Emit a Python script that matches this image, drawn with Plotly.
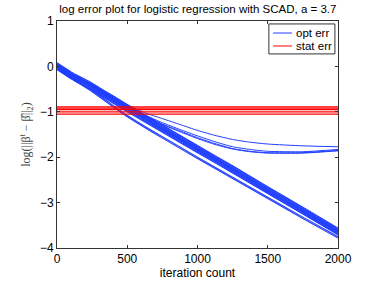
import plotly.graph_objects as go

iters = [0, 100, 250, 500, 750, 1000, 1250, 1500, 1750, 2000]

# optimization error curves: the main dense bundle
opt_bundle = [
    [0.08, -0.12, -0.37, -0.84, -1.29, -1.74, -2.19, -2.65, -3.10, -3.56],
    [0.06, -0.14, -0.39, -0.86, -1.31, -1.76, -2.21, -2.67, -3.12, -3.58],
    [0.04, -0.16, -0.41, -0.88, -1.33, -1.78, -2.23, -2.69, -3.14, -3.60],
    [0.02, -0.18, -0.43, -0.90, -1.35, -1.80, -2.25, -2.71, -3.16, -3.62],
    [0.01, -0.19, -0.44, -0.91, -1.36, -1.81, -2.26, -2.72, -3.17, -3.63],
    [-0.01, -0.21, -0.46, -0.93, -1.38, -1.83, -2.28, -2.74, -3.19, -3.65],
    [-0.02, -0.22, -0.47, -0.94, -1.39, -1.84, -2.29, -2.75, -3.20, -3.66],
    [-0.04, -0.24, -0.49, -0.96, -1.41, -1.86, -2.31, -2.77, -3.22, -3.68],
    [-0.06, -0.26, -0.51, -0.98, -1.43, -1.88, -2.33, -2.79, -3.24, -3.70],
    [-0.07, -0.27, -0.53, -1.00, -1.45, -1.90, -2.35, -2.80, -3.25, -3.71],
]
# two curves that fall slightly faster than the bundle
opt_lower = [
    [-0.03, -0.24, -0.53, -1.08, -1.55, -2.00, -2.44, -2.88, -3.32, -3.75],
    [-0.04, -0.26, -0.56, -1.11, -1.58, -2.03, -2.47, -2.91, -3.35, -3.78],
]

# curves that level off (read at finer knots)
iters_flat = [0, 100, 250, 500, 625, 750, 875, 1000, 1125, 1250, 1375, 1500, 1750, 2000]
opt_flat = [
    [0.05, -0.15, -0.40, -0.85, -1.02, -1.15, -1.28, -1.41, -1.52, -1.61, -1.67, -1.71, -1.75, -1.77],
    [0.03, -0.17, -0.42, -0.88, -1.07, -1.24, -1.39, -1.53, -1.66, -1.77, -1.83, -1.87, -1.88, -1.83],
    [0.02, -0.18, -0.43, -0.90, -1.09, -1.27, -1.42, -1.57, -1.70, -1.81, -1.87, -1.90, -1.90, -1.85],
    [0.01, -0.19, -0.44, -0.91, -1.10, -1.28, -1.44, -1.59, -1.72, -1.82, -1.88, -1.91, -1.91, -1.86],
]

# statistical error levels (constant lines)
stat_levels = [-0.89, -0.92, -0.95, -1.00, -1.05]
stat_x = [0, 2000]

x_ticks = [0, 500, 1000, 1500, 2000]
y_ticks = [-4, -3, -2, -1, 0, 1]

legend_labels = ["opt err", "stat err"]
BLUE = "#1f3dff"
RED = "#ff0000"

fig = go.Figure()

for curve in opt_bundle + opt_lower:
    fig.add_trace(go.Scatter(x=iters, y=curve, mode="lines",
                             line=dict(color=BLUE, width=1.1, shape="spline", smoothing=0.6),
                             showlegend=False))
for curve in opt_flat:
    fig.add_trace(go.Scatter(x=iters_flat, y=curve, mode="lines",
                             line=dict(color=BLUE, width=1, shape="spline", smoothing=0.6),
                             showlegend=False))
for lv in stat_levels:
    fig.add_trace(go.Scatter(x=stat_x, y=[lv, lv], mode="lines",
                             line=dict(color=RED, width=1.2), showlegend=False))

axis_common = dict(showline=True, linecolor="#333333", linewidth=1, mirror="ticks",
                   ticks="inside", ticklen=3, tickcolor="#333333", showgrid=False, zeroline=False,
                   tickfont=dict(size=12, color="black"), automargin=False)

# legend box drawn in paper coordinates (MATLAB style)
lx0, lx1, ly0, ly1 = 0.754, 0.989, 0.855, 0.987
row_y = [0.947, 0.890]
fig.add_shape(type="rect", xref="paper", yref="paper", x0=lx0, x1=lx1, y0=ly0, y1=ly1,
              line=dict(color="#333333", width=1), fillcolor="white", layer="above")
for lab, col, yy in zip(legend_labels, [BLUE, RED], row_y):
    fig.add_shape(type="line", xref="paper", yref="paper", x0=0.769, x1=0.836,
                  y0=yy, y1=yy, line=dict(color=col, width=1), layer="above")
    fig.add_annotation(x=0.845, y=yy, xref="paper", yref="paper", text=lab,
                       showarrow=False, xanchor="left", yanchor="middle",
                       font=dict(size=11.5, color="black"))

fig.update_layout(
    width=374, height=281,
    margin=dict(l=57, r=36, t=21, b=33, autoexpand=False),
    paper_bgcolor="white", plot_bgcolor="white",
    font=dict(family="Liberation Sans, Arial, sans-serif", size=12, color="black"),
    title=dict(text="log error plot for logistic regression with SCAD, a = 3.7",
               x=0.529, xanchor="center", xref="container", y=1 - 9 / 281, yanchor="middle",
               yref="container", font=dict(size=11.5)),
    xaxis=dict(range=[0, 2000], tickvals=x_ticks,
               title=dict(text="iteration count", standoff=0, font=dict(size=12)), **axis_common),
    yaxis=dict(range=[-4, 1], tickvals=y_ticks,
               title=dict(text="log(||β<sup>t</sup> − β̂||<sub>2</sub>)", standoff=6,
                          font=dict(size=12, family="Liberation Serif, serif", color="#444444")),
               **axis_common),
    showlegend=False,
)

fig.write_html("out.html", config={"displayModeBar": False},
               post_script="document.body.style.margin='0';")
